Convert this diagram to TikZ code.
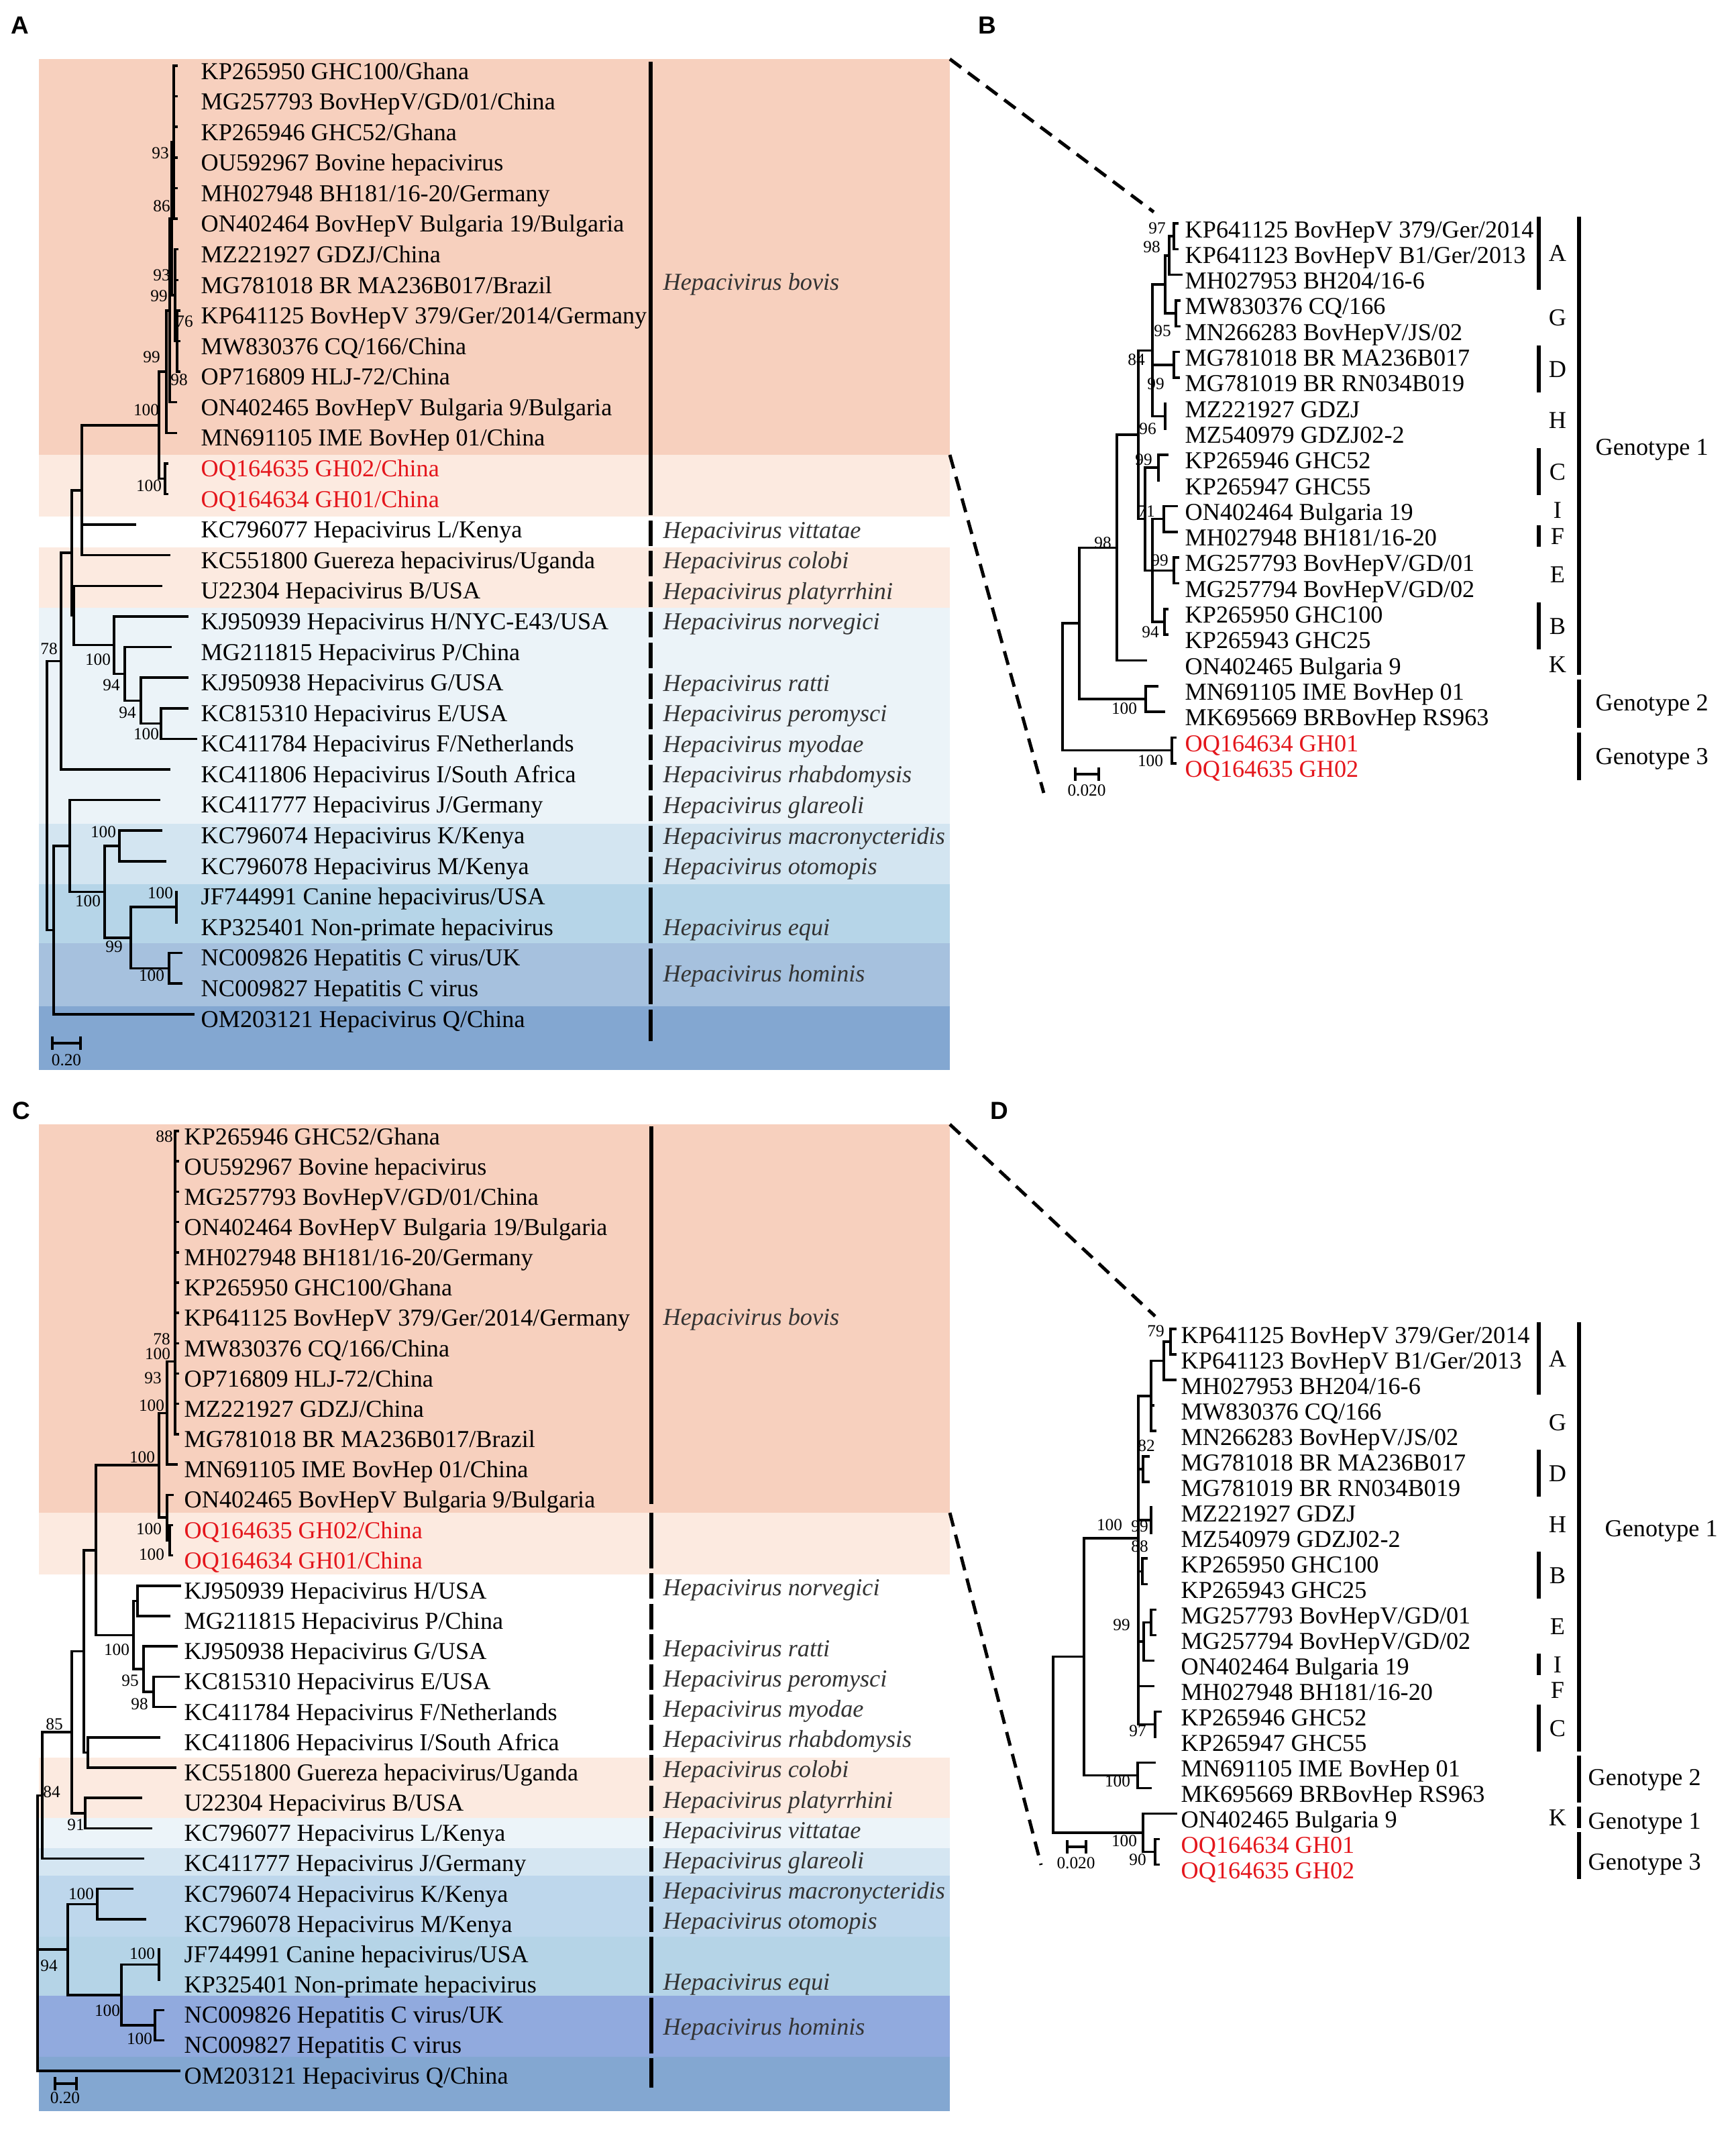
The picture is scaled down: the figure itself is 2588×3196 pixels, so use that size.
\documentclass[tikz,border=0pt]{standalone}
\usepackage{fontspec}
\setmainfont{Liberation Serif}
\newfontfamily\panelsans{Liberation Sans}
\definecolor{cBov}{RGB}{247,208,190}
\definecolor{cGH}{RGB}{252,234,224}
\definecolor{cRodA}{RGB}{235,243,248}
\definecolor{cBatA}{RGB}{211,229,241}
\definecolor{cEquiA}{RGB}{182,213,232}
\definecolor{cHomA}{RGB}{166,193,222}
\definecolor{cQ}{RGB}{131,167,209}
\definecolor{cVitC}{RGB}{236,244,249}
\definecolor{cGlaC}{RGB}{213,230,242}
\definecolor{cBatC}{RGB}{190,215,236}
\definecolor{cEquiC}{RGB}{181,212,231}
\definecolor{cHomC}{RGB}{145,170,222}
\definecolor{cRed}{RGB}{228,22,28}
\newcommand\lfnt{\fontsize{10.3}{12}\selectfont}
\newcommand\bfnt{\fontsize{7.2}{8.5}\selectfont}
\newcommand\hbr[3]{\draw[br] (#1,#3) -- (#2,#3);}
\newcommand\vbr[3]{\draw[br] (#1,#2) -- (#1,#3);}
\newcommand\leafA[3][]{\node[leaf,#1] (a#2) at (299,{118+45.58*(#2-1)}) {#3};}
\newcommand\leafC[3][]{\node[leaf,#1] (c#2) at (274,{1706+45.16*(#2-1)}) {#3};}
\newcommand\leafB[3][]{\node[leaf,#1] (b#2) at (1766,{354+38.3*(#2-1)}) {#3};}
\newcommand\leafD[3][]{\node[leaf,#1] (d#2) at (1760,{2002+38*(#2-1)}) {#3};}
\newcommand\bsl[4]{\node[boot] (#1) at (#2,#3) {#4};}
\newcommand\spA[3]{\node[sp] (#1) at (988,#2) {Hepacivirus #3};}
\newcommand\spC[3]{\node[sp] (#1) at (988,#2) {Hepacivirus #3};}
\newcommand\cbarA[2]{\draw[cbar] (970,#1) -- (970,#2);}
\newcommand\cbarC[2]{\draw[cbar] (971,#1) -- (971,#2);}
\newcommand\sbar[3]{\draw[cbar] (2294,#1) -- (2294,#2); }
\begin{document}
\begin{tikzpicture}[x=0.01cm,y=-0.01cm,
  br/.style={line width=1.0pt,line cap=rect},
  cbar/.style={line width=1.5pt},
  leaf/.style={anchor=base west,inner sep=0pt,font=\lfnt},
  boot/.style={inner sep=0pt,font=\bfnt},
  sp/.style={anchor=base west,inner sep=0pt,font=\lfnt\itshape,text=black!80},
  subt/.style={inner sep=0pt,font=\lfnt},
  geno/.style={anchor=west,inner sep=0pt,font=\lfnt},
  plab/.style={inner sep=0pt,font=\panelsans\bfseries\fontsize{10.5}{12}\selectfont},
  dashlink/.style={line width=1.4pt,dash pattern=on 6pt off 3.6pt}]
\useasboundingbox (0,0) rectangle (2588,3196);
\fill[white] (0,0) rectangle (2588,3196);

% ---------------- backgrounds A
\fill[cBov] (58,88) rectangle (1416,678);
\fill[cGH] (58,678) rectangle (1416,770);
\fill[cGH] (58,816) rectangle (1416,906);
\fill[cRodA] (58,906) rectangle (1416,1228);
\fill[cBatA] (58,1228) rectangle (1416,1318);
\fill[cEquiA] (58,1318) rectangle (1416,1406);
\fill[cHomA] (58,1406) rectangle (1416,1500);
\fill[cQ] (58,1500) rectangle (1416,1595);
% ---------------- backgrounds C
\fill[cBov] (58,1676) rectangle (1416,2255);
\fill[cGH] (58,2255) rectangle (1416,2347);
\fill[cGH] (58,2620) rectangle (1416,2710);
\fill[cVitC] (58,2710) rectangle (1416,2755);
\fill[cGlaC] (58,2755) rectangle (1416,2796);
\fill[cBatC] (58,2796) rectangle (1416,2887);
\fill[cEquiC] (58,2887) rectangle (1416,2975);
\fill[cHomC] (58,2975) rectangle (1416,3066);
\fill[cQ] (58,3066) rectangle (1416,3147);

% ---------------- panel letters
\node[plab] (LA) at (30,38) {A};
\node[plab] (LB) at (1472,38) {B};
\node[plab] (LC) at (32,1656) {C};
\node[plab] (LD) at (1490,1656) {D};

% ---------------- dashed links
\coordinate (dA1) at (1416,88); \coordinate (dB1) at (1720,316);
\coordinate (dA2) at (1416,678); \coordinate (dB2) at (1556,1182);
\coordinate (dC1) at (1416,1676); \coordinate (dD1) at (1722,1962);
\coordinate (dC2) at (1416,2255); \coordinate (dD2) at (1552,2780);
\draw[dashlink] (dA1) -- (dB1);
\draw[dashlink] (dA2) -- (dB2);
\draw[dashlink] (dC1) -- (dD1);
\draw[dashlink] (dC2) -- (dD2);

% ================= TREE A
\begin{scope}[shift={(0,52.42)},y=-0.4558cm]
\vbr{259}{1}{6} \foreach \r in {1,...,6}{\hbr{259}{263}{\r}}
\vbr{261}{7}{10} \hbr{261}{264}{7} \hbr{261}{264}{8}
\vbr{264}{9}{11} \foreach \r in {9,10,11}{\hbr{264}{267}{\r}} \hbr{261}{264}{10}
\vbr{256}{3.5}{8.5} \hbr{256}{259}{3.5} \hbr{256}{261}{8.5}
\vbr{253}{6}{12} \hbr{253}{256}{6} \hbr{253}{262}{12}
\vbr{248}{9}{13} \hbr{248}{253}{9} \hbr{248}{262}{13}
\vbr{246}{14}{15} \hbr{246}{249}{14} \hbr{246}{249}{15}
\vbr{237}{11}{14.5} \hbr{237}{248}{11} \hbr{237}{246}{14.5}
\hbr{122}{237}{12.75}
\vbr{122}{12.75}{17} \hbr{122}{201}{16} \hbr{122}{252}{17}
\hbr{107}{122}{14.875}
\vbr{240}{22}{23} \hbr{240}{279}{22} \hbr{240}{292}{23}
\vbr{210}{21}{22.5} \hbr{210}{279}{21} \hbr{210}{240}{22.5}
\vbr{186}{20}{21.75} \hbr{186}{254}{20} \hbr{186}{210}{21.75}
\vbr{170}{19}{20.875} \hbr{170}{279}{19} \hbr{170}{186}{20.875}
\vbr{110}{18}{19.9375} \hbr{110}{240}{18} \hbr{110}{170}{19.9375}
\vbr{107}{14.875}{18.97} \hbr{107}{110}{18.97}
\vbr{91}{16.92}{24} \hbr{91}{107}{16.92} \hbr{91}{252}{24}
\hbr{104}{237}{25}
\vbr{178}{26}{27} \hbr{178}{240}{26} \hbr{178}{246}{27}
\vbr{263}{28}{29}
\vbr{252}{30}{31} \hbr{252}{270}{30} \hbr{252}{270}{31}
\vbr{195}{28.5}{30.5} \hbr{195}{263}{28.5} \hbr{195}{252}{30.5}
\vbr{156}{26.5}{29.5} \hbr{156}{178}{26.5} \hbr{156}{195}{29.5}
\vbr{104}{25}{28} \hbr{104}{156}{28}
\vbr{80}{26.5}{32} \hbr{80}{104}{26.5} \hbr{80}{288}{32}
\vbr{70}{20.46}{29.25} \hbr{70}{91}{20.46} \hbr{70}{80}{29.25}
\end{scope}

% leaves A
\leafA{1}{KP265950 GHC100/Ghana}
\leafA{2}{MG257793 BovHepV/GD/01/China}
\leafA{3}{KP265946 GHC52/Ghana}
\leafA{4}{OU592967 Bovine hepacivirus}
\leafA{5}{MH027948 BH181/16-20/Germany}
\leafA{6}{ON402464 BovHepV Bulgaria 19/Bulgaria}
\leafA{7}{MZ221927 GDZJ/China}
\leafA{8}{MG781018 BR MA236B017/Brazil}
\leafA{9}{KP641125 BovHepV 379/Ger/2014/Germany}
\leafA{10}{MW830376 CQ/166/China}
\leafA{11}{OP716809 HLJ-72/China}
\leafA{12}{ON402465 BovHepV Bulgaria 9/Bulgaria}
\leafA{13}{MN691105 IME BovHep 01/China}
\leafA[text=cRed]{14}{OQ164635 GH02/China}
\leafA[text=cRed]{15}{OQ164634 GH01/China}
\leafA{16}{KC796077 Hepacivirus L/Kenya}
\leafA{17}{KC551800 Guereza hepacivirus/Uganda}
\leafA{18}{U22304 Hepacivirus B/USA}
\leafA{19}{KJ950939 Hepacivirus H/NYC-E43/USA}
\leafA{20}{MG211815 Hepacivirus P/China}
\leafA{21}{KJ950938 Hepacivirus G/USA}
\leafA{22}{KC815310 Hepacivirus E/USA}
\leafA{23}{KC411784 Hepacivirus F/Netherlands}
\leafA{24}{KC411806 Hepacivirus I/South Africa}
\leafA{25}{KC411777 Hepacivirus J/Germany}
\leafA{26}{KC796074 Hepacivirus K/Kenya}
\leafA{27}{KC796078 Hepacivirus M/Kenya}
\leafA{28}{JF744991 Canine hepacivirus/USA}
\leafA{29}{KP325401 Non-primate hepacivirus}
\leafA{30}{NC009826 Hepatitis C virus/UK}
\leafA{31}{NC009827 Hepatitis C virus}
\leafA{32}{OM203121 Hepacivirus Q/China}

% bootstrap A
\bsl{ba1}{239}{228}{93}
\bsl{ba2}{241}{307}{86}
\bsl{ba3}{241}{410}{93}
\bsl{ba4}{237}{441}{99}
\bsl{ba5}{275}{479}{76}
\bsl{ba6}{226}{532}{99}
\bsl{ba7}{267}{566}{98}
\bsl{ba8}{218}{611}{100}
\bsl{ba9}{222}{724}{100}
\bsl{ba10}{73}{967}{78}
\bsl{ba11}{146}{983}{100}
\bsl{ba12}{166}{1021}{94}
\bsl{ba13}{190}{1062}{94}
\bsl{ba14}{218}{1094}{100}
\bsl{ba15}{154}{1240}{100}
\bsl{ba16}{131}{1343}{100}
\bsl{ba17}{239}{1331}{100}
\bsl{ba18}{170}{1411}{99}
\bsl{ba19}{226}{1454}{100}

% scale A
\draw[br] (78,1555) -- (120,1555);
\draw[br] (78,1547) -- (78,1563);
\draw[br] (120,1547) -- (120,1563);
\node[boot] (sA) at (99,1580) {0.20};

% clade bars A
\cbarA{92}{768} \cbarA{776}{814} \cbarA{821}{859} \cbarA{867}{905}
\cbarA{912}{950} \cbarA{958}{996} \cbarA{1004}{1042} \cbarA{1049}{1087}
\cbarA{1095}{1133} \cbarA{1140}{1178} \cbarA{1186}{1224} \cbarA{1231}{1270}
\cbarA{1277}{1315} \cbarA{1323}{1406} \cbarA{1414}{1497} \cbarA{1505}{1552}
\spA{spa1}{432}{bovis}
\spA{spa2}{802}{vittatae}
\spA{spa3}{847}{colobi}
\spA{spa4}{893}{platyrrhini}
\spA{spa5}{938}{norvegici}
\spA{spa6}{1030}{ratti}
\spA{spa7}{1075}{peromysci}
\spA{spa8}{1121}{myodae}
\spA{spa9}{1166}{rhabdomysis}
\spA{spa10}{1212}{glareoli}
\spA{spa11}{1258}{macronycteridis}
\spA{spa12}{1303}{otomopis}
\spA{spa13}{1394}{equi}
\spA{spa14}{1463}{hominis}

% ================= TREE C
\begin{scope}[shift={(0,1640.84)},y=-0.4516cm]
\vbr{261}{1}{11} \foreach \r in {1,...,11}{\hbr{261}{265}{\r}}
\hbr{249}{261}{8.6}
\vbr{249}{8.6}{12} \hbr{249}{263}{12}
\vbr{237}{10.3}{13.75} \hbr{237}{249}{10.3} \hbr{237}{249}{13.75}
\vbr{249}{13}{14.5} \hbr{249}{257}{13} \hbr{249}{253}{14.5}
\vbr{253}{14}{15} \hbr{253}{256}{14} \hbr{253}{256}{15}
\hbr{143}{237}{12.025}
\vbr{205}{16}{17} \hbr{205}{268}{16} \hbr{205}{252}{17}
\vbr{229}{19}{20} \hbr{229}{266}{19} \hbr{229}{261}{20}
\vbr{214}{18}{19.5} \hbr{214}{263}{18} \hbr{214}{229}{19.5}
\vbr{199}{16.5}{18.75} \hbr{199}{205}{16.5} \hbr{199}{214}{18.75}
\vbr{143}{12.025}{17.625} \hbr{143}{199}{17.625}
\hbr{125}{143}{14.825}
\vbr{131}{21}{22} \hbr{131}{237}{21} \hbr{131}{261}{22}
\vbr{125}{14.825}{21.5} \hbr{125}{131}{21.5}
\hbr{107}{125}{18.16}
\vbr{127}{23}{24} \hbr{127}{210}{23} \hbr{127}{225}{24}
\vbr{107}{18.16}{23.5} \hbr{107}{127}{23.5}
\hbr{63}{107}{20.83}
\hbr{63}{213}{25}
\vbr{63}{20.83}{25}
\hbr{56}{63}{22.915}
\vbr{145}{26}{27} \hbr{145}{197}{26} \hbr{145}{216}{27}
\vbr{237}{28}{29}
\vbr{231}{30}{31} \hbr{231}{243}{30} \hbr{231}{243}{31}
\vbr{181}{28.5}{30.5} \hbr{181}{237}{28.5} \hbr{181}{231}{30.5}
\vbr{101}{26.5}{29.5} \hbr{101}{145}{26.5} \hbr{101}{181}{29.5}
\vbr{56}{22.915}{32} \hbr{56}{101}{28} \hbr{56}{267}{32}
\end{scope}

% leaves C
\leafC{1}{KP265946 GHC52/Ghana}
\leafC{2}{OU592967 Bovine hepacivirus}
\leafC{3}{MG257793 BovHepV/GD/01/China}
\leafC{4}{ON402464 BovHepV Bulgaria 19/Bulgaria}
\leafC{5}{MH027948 BH181/16-20/Germany}
\leafC{6}{KP265950 GHC100/Ghana}
\leafC{7}{KP641125 BovHepV 379/Ger/2014/Germany}
\leafC{8}{MW830376 CQ/166/China}
\leafC{9}{OP716809 HLJ-72/China}
\leafC{10}{MZ221927 GDZJ/China}
\leafC{11}{MG781018 BR MA236B017/Brazil}
\leafC{12}{MN691105 IME BovHep 01/China}
\leafC{13}{ON402465 BovHepV Bulgaria 9/Bulgaria}
\leafC[text=cRed]{14}{OQ164635 GH02/China}
\leafC[text=cRed]{15}{OQ164634 GH01/China}
\leafC{16}{KJ950939 Hepacivirus H/USA}
\leafC{17}{MG211815 Hepacivirus P/China}
\leafC{18}{KJ950938 Hepacivirus G/USA}
\leafC{19}{KC815310 Hepacivirus E/USA}
\leafC{20}{KC411784 Hepacivirus F/Netherlands}
\leafC{21}{KC411806 Hepacivirus I/South Africa}
\leafC{22}{KC551800 Guereza hepacivirus/Uganda}
\leafC{23}{U22304 Hepacivirus B/USA}
\leafC{24}{KC796077 Hepacivirus L/Kenya}
\leafC{25}{KC411777 Hepacivirus J/Germany}
\leafC{26}{KC796074 Hepacivirus K/Kenya}
\leafC{27}{KC796078 Hepacivirus M/Kenya}
\leafC{28}{JF744991 Canine hepacivirus/USA}
\leafC{29}{KP325401 Non-primate hepacivirus}
\leafC{30}{NC009826 Hepatitis C virus/UK}
\leafC{31}{NC009827 Hepatitis C virus}
\leafC{32}{OM203121 Hepacivirus Q/China}

% bootstrap C
\bsl{bc1}{245}{1694}{88}
\bsl{bc2}{241}{1996}{78}
\bsl{bc3}{235}{2018}{100}
\bsl{bc4}{228}{2054}{93}
\bsl{bc5}{226}{2095}{100}
\bsl{bc6}{212}{2172}{100}
\bsl{bc7}{222}{2279}{100}
\bsl{bc8}{226}{2317}{100}
\bsl{bc9}{174}{2459}{100}
\bsl{bc10}{194}{2505}{95}
\bsl{bc11}{208}{2540}{98}
\bsl{bc12}{81}{2570}{85}
\bsl{bc13}{77}{2671}{84}
\bsl{bc14}{113}{2720}{91}
\bsl{bc15}{121}{2823}{100}
\bsl{bc16}{73}{2930}{94}
\bsl{bc17}{212}{2912}{100}
\bsl{bc18}{160}{2997}{100}
\bsl{bc19}{208}{3039}{100}

% scale C
\draw[br] (82,3106) -- (114,3106);
\draw[br] (82,3098) -- (82,3114);
\draw[br] (114,3098) -- (114,3114);
\node[boot] (sC) at (97,3127) {0.20};

% clade bars C
\cbarC{1679}{2242} \cbarC{2255}{2338} \cbarC{2345}{2383} \cbarC{2391}{2429}
\cbarC{2436}{2474} \cbarC{2481}{2519} \cbarC{2526}{2564} \cbarC{2571}{2609}
\cbarC{2616}{2654} \cbarC{2662}{2700} \cbarC{2707}{2745} \cbarC{2752}{2790}
\cbarC{2797}{2835} \cbarC{2842}{2880} \cbarC{2887}{2971} \cbarC{2978}{3061}
\cbarC{3068}{3112}
\spC{spc1}{1975}{bovis}
\spC{spc2}{2378}{norvegici}
\spC{spc3}{2469}{ratti}
\spC{spc4}{2514}{peromysci}
\spC{spc5}{2559}{myodae}
\spC{spc6}{2604}{rhabdomysis}
\spC{spc7}{2649}{colobi}
\spC{spc8}{2695}{platyrrhini}
\spC{spc9}{2740}{vittatae}
\spC{spc10}{2785}{glareoli}
\spC{spc11}{2830}{macronycteridis}
\spC{spc12}{2875}{otomopis}
\spC{spc13}{2966}{equi}
\spC{spc14}{3033}{hominis}

% ================= TREE B
\begin{scope}[shift={(0,294.7)},y=-0.383cm]
\vbr{1750}{1}{2} \hbr{1750}{1755}{1} \hbr{1750}{1755}{2}
\vbr{1743}{1.5}{3} \hbr{1743}{1750}{1.5} \hbr{1743}{1761}{3}
\vbr{1753}{4}{5} \hbr{1753}{1758}{4} \hbr{1753}{1758}{5}
\vbr{1737}{2.25}{4.5} \hbr{1737}{1743}{2.25} \hbr{1737}{1753}{4.5}
\vbr{1750}{6}{7} \hbr{1750}{1757}{6} \hbr{1750}{1757}{7}
\vbr{1737}{8}{9}
\vbr{1718}{3.375}{8.5} \hbr{1718}{1737}{3.375} \hbr{1718}{1750}{6.5} \hbr{1718}{1737}{8.5}
\vbr{1727}{10}{11} \hbr{1727}{1740}{10}
\vbr{1735}{12}{13} \hbr{1735}{1754}{12} \hbr{1735}{1754}{13}
\vbr{1750}{14}{15} \hbr{1750}{1756}{14} \hbr{1750}{1756}{15}
\vbr{1736}{16}{17} \hbr{1736}{1740}{16} \hbr{1736}{1740}{17}
\vbr{1718}{12.5}{16.5} \hbr{1718}{1735}{12.5} \hbr{1718}{1750}{14.5} \hbr{1718}{1736}{16.5}
\vbr{1707}{10.5}{14.5} \hbr{1707}{1727}{10.5} \hbr{1707}{1718}{14.5}
\vbr{1697}{5.94}{12.5} \hbr{1697}{1718}{5.94} \hbr{1697}{1707}{12.5}
\vbr{1665}{9.22}{18} \hbr{1665}{1697}{9.22} \hbr{1665}{1708}{18}
\vbr{1708}{19}{20} \hbr{1708}{1725}{19} \hbr{1708}{1735}{20}
\vbr{1609}{13.61}{19.5} \hbr{1609}{1665}{13.61} \hbr{1609}{1708}{19.5}
\vbr{1747}{21}{22} \hbr{1747}{1752}{21} \hbr{1747}{1752}{22}
\vbr{1584}{16.55}{21.5} \hbr{1584}{1609}{16.55} \hbr{1584}{1747}{21.5}
\end{scope}

\leafB{1}{KP641125 BovHepV 379/Ger/2014}
\leafB{2}{KP641123 BovHepV B1/Ger/2013}
\leafB{3}{MH027953 BH204/16-6}
\leafB{4}{MW830376 CQ/166}
\leafB{5}{MN266283 BovHepV/JS/02}
\leafB{6}{MG781018 BR MA236B017}
\leafB{7}{MG781019 BR RN034B019}
\leafB{8}{MZ221927 GDZJ}
\leafB{9}{MZ540979 GDZJ02-2}
\leafB{10}{KP265946 GHC52}
\leafB{11}{KP265947 GHC55}
\leafB{12}{ON402464 Bulgaria 19}
\leafB{13}{MH027948 BH181/16-20}
\leafB{14}{MG257793 BovHepV/GD/01}
\leafB{15}{MG257794 BovHepV/GD/02}
\leafB{16}{KP265950 GHC100}
\leafB{17}{KP265943 GHC25}
\leafB{18}{ON402465 Bulgaria 9}
\leafB{19}{MN691105 IME BovHep 01}
\leafB{20}{MK695669 BRBovHep RS963}
\leafB[text=cRed]{21}{OQ164634 GH01}
\leafB[text=cRed]{22}{OQ164635 GH02}

\bsl{bb1}{1725}{340}{97}
\bsl{bb2}{1717}{368}{98}
\bsl{bb3}{1733}{493}{95}
\bsl{bb4}{1694}{536}{84}
\bsl{bb5}{1723}{572}{99}
\bsl{bb6}{1711}{639}{96}
\bsl{bb7}{1705}{685}{99}
\bsl{bb8}{1709}{762}{71}
\bsl{bb9}{1729}{835}{99}
\bsl{bb10}{1715}{942}{94}
\bsl{bb11}{1644}{809}{98}
\bsl{bb12}{1676}{1056}{100}
\bsl{bb13}{1715}{1134}{100}

\draw[br] (1603,1154) -- (1638,1154);
\draw[br] (1603,1146) -- (1603,1162);
\draw[br] (1638,1146) -- (1638,1162);
\node[boot] (sB) at (1620,1178) {0.020};

\sbar{323}{432} \sbar{438}{508} \sbar{515}{585} \sbar{591}{661} \sbar{668}{738}
\sbar{744}{776} \sbar{783}{815} \sbar{821}{891} \sbar{898}{968} \sbar{974}{1006}
\node[subt] (tB1) at (2322,378) {A};
\node[subt] (tB2) at (2322,474) {G};
\node[subt] (tB3) at (2322,551) {D};
\node[subt] (tB4) at (2322,627) {H};
\node[subt] (tB5) at (2322,704) {C};
\node[subt] (tB6) at (2322,761) {I};
\node[subt] (tB7) at (2322,800) {F};
\node[subt] (tB8) at (2322,857) {E};
\node[subt] (tB9) at (2322,934) {B};
\node[subt] (tB10) at (2322,991) {K};
\draw[cbar] (2354,323) -- (2354,1006);
\draw[cbar] (2354,1013) -- (2354,1085);
\draw[cbar] (2354,1092) -- (2354,1163);
\node[geno] (gB1) at (2378,670) {Genotype 1};
\node[geno] (gB2) at (2378,1051) {Genotype 2};
\node[geno] (gB3) at (2378,1131) {Genotype 3};

% ================= TREE D
\begin{scope}[shift={(0,1943)},y=-0.38cm]
\vbr{1745}{1}{2} \hbr{1745}{1752}{1} \hbr{1745}{1752}{2}
\vbr{1735}{1.5}{3} \hbr{1735}{1745}{1.5} \hbr{1735}{1752}{3}
\vbr{1716}{2.25}{5} \hbr{1716}{1735}{2.25} \hbr{1716}{1719}{4} \hbr{1716}{1722}{5}
\vbr{1704}{6}{7} \hbr{1704}{1712}{6} \hbr{1704}{1712}{7}
\vbr{1716}{8}{9}
\vbr{1703}{10}{11} \hbr{1703}{1709}{10} \hbr{1703}{1709}{11}
\vbr{1716}{12}{13} \hbr{1716}{1722}{12} \hbr{1716}{1722}{13}
\vbr{1705}{12.5}{14} \hbr{1705}{1716}{12.5} \hbr{1705}{1719}{14}
\vbr{1722}{16}{17} \hbr{1722}{1730}{16}
\vbr{1697}{3.625}{16.5} \hbr{1697}{1716}{3.625} \hbr{1697}{1704}{6.5} \hbr{1697}{1716}{8.5}
\hbr{1697}{1703}{10.5} \hbr{1697}{1705}{13.25} \hbr{1697}{1719}{15} \hbr{1697}{1722}{16.5}
\vbr{1696}{18}{19} \hbr{1696}{1721}{18} \hbr{1696}{1715}{19}
\vbr{1616}{9.2}{18.5} \hbr{1616}{1697}{9.2} \hbr{1616}{1696}{18.5}
\vbr{1722}{21}{22} \hbr{1722}{1727}{21} \hbr{1722}{1727}{22}
\vbr{1704}{20}{21.5} \hbr{1704}{1753}{20} \hbr{1704}{1722}{21.5}
\vbr{1570}{13.85}{20.75} \hbr{1570}{1616}{13.85} \hbr{1570}{1704}{20.75}
\end{scope}

\leafD{1}{KP641125 BovHepV 379/Ger/2014}
\leafD{2}{KP641123 BovHepV B1/Ger/2013}
\leafD{3}{MH027953 BH204/16-6}
\leafD{4}{MW830376 CQ/166}
\leafD{5}{MN266283 BovHepV/JS/02}
\leafD{6}{MG781018 BR MA236B017}
\leafD{7}{MG781019 BR RN034B019}
\leafD{8}{MZ221927 GDZJ}
\leafD{9}{MZ540979 GDZJ02-2}
\leafD{10}{KP265950 GHC100}
\leafD{11}{KP265943 GHC25}
\leafD{12}{MG257793 BovHepV/GD/01}
\leafD{13}{MG257794 BovHepV/GD/02}
\leafD{14}{ON402464 Bulgaria 19}
\leafD{15}{MH027948 BH181/16-20}
\leafD{16}{KP265946 GHC52}
\leafD{17}{KP265947 GHC55}
\leafD{18}{MN691105 IME BovHep 01}
\leafD{19}{MK695669 BRBovHep RS963}
\leafD{20}{ON402465 Bulgaria 9}
\leafD[text=cRed]{21}{OQ164634 GH01}
\leafD[text=cRed]{22}{OQ164635 GH02}

\bsl{bd1}{1723}{1984}{79}
\bsl{bd2}{1709}{2155}{82}
\bsl{bd3}{1654}{2273}{100}
\bsl{bd4}{1699}{2275}{99}
\bsl{bd5}{1699}{2305}{88}
\bsl{bd6}{1672}{2422}{99}
\bsl{bd7}{1696}{2580}{97}
\bsl{bd8}{1666}{2655}{100}
\bsl{bd9}{1676}{2744}{100}
\bsl{bd10}{1696}{2772}{90}

\draw[br] (1591,2753) -- (1619,2753);
\draw[br] (1591,2745) -- (1591,2761);
\draw[br] (1619,2745) -- (1619,2761);
\node[boot] (sD) at (1604,2777) {0.020};

\sbar{1971}{2079} \sbar{2085}{2155} \sbar{2161}{2231} \sbar{2237}{2307} \sbar{2313}{2383}
\sbar{2389}{2459} \sbar{2465}{2497} \sbar{2503}{2535} \sbar{2541}{2611} \sbar{2693}{2725}
\node[subt] (tD1) at (2322,2026) {A};
\node[subt] (tD2) at (2322,2121) {G};
\node[subt] (tD3) at (2322,2197) {D};
\node[subt] (tD4) at (2322,2273) {H};
\node[subt] (tD5) at (2322,2349) {B};
\node[subt] (tD6) at (2322,2425) {E};
\node[subt] (tD7) at (2322,2482) {I};
\node[subt] (tD8) at (2322,2520) {F};
\node[subt] (tD9) at (2322,2577) {C};
\node[subt] (tD10) at (2322,2710) {K};
\draw[cbar] (2354,1971) -- (2354,2611);
\draw[cbar] (2354,2617) -- (2354,2687);
\draw[cbar] (2354,2693) -- (2354,2725);
\draw[cbar] (2354,2731) -- (2354,2801);
\node[geno] (gD1) at (2392,2282) {Genotype 1};
\node[geno] (gD2) at (2367,2653) {Genotype 2};
\node[geno] (gD3) at (2367,2718) {Genotype 1};
\node[geno] (gD4) at (2367,2779) {Genotype 3};
\end{tikzpicture}
\end{document}
